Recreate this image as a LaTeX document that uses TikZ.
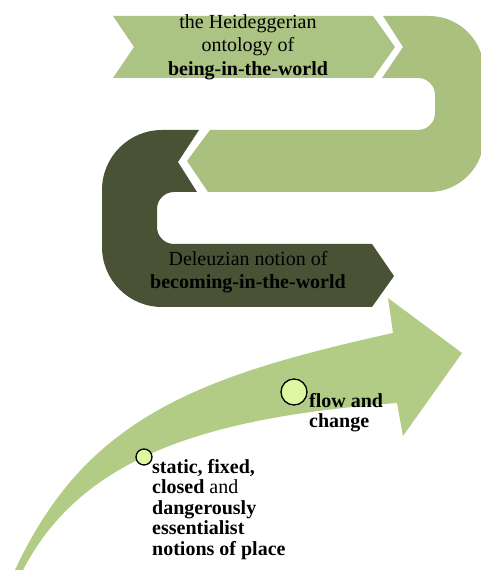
\documentclass[tikz,border=0pt]{standalone}
\usepackage{fontspec}
\setmainfont{Liberation Serif}
\usepackage{tikz}

\definecolor{chevgreen}{HTML}{ABC383}
\definecolor{bandgreen}{HTML}{A9C07F}
\definecolor{darkgreen}{HTML}{4A5235}
\definecolor{arrowgreen}{HTML}{B2CC86}
\definecolor{dotgreen}{HTML}{DDF8A0}

\begin{document}
\begin{tikzpicture}[x=1pt, y=1pt,
  dot/.style={circle, draw=black, line width=1.3pt, fill=dotgreen, inner sep=0pt},
  label text/.style={inner sep=0pt, font=\fontsize{20}{23.5}\selectfont}]
\useasboundingbox (0,0) rectangle (481,570);
\clip (0,0) rectangle (481,570);

% Top chevron
\fill[chevgreen] (113,554) -- (373,554) -- (395,523) -- (373,492) -- (113,492) -- (134,523) -- cycle;

% Light band turning right, pointing left
\fill[bandgreen] (383,554) -- (429,554) arc[start angle=90, end angle=0, radius=55]
  -- (484,433) arc[start angle=0, end angle=-90, radius=55]
  -- (208,378) -- (187,409) -- (210,440) -- (418,440) arc[start angle=-90, end angle=0, radius=17]
  -- (435,475) arc[start angle=0, end angle=90, radius=17]
  -- (382,492) -- (403,523) -- cycle;

% Dark band turning left, pointing right
\fill[darkgreen] (199,440) -- (162,440) arc[start angle=90, end angle=180, radius=60]
  -- (102,323) arc[start angle=180, end angle=270, radius=60]
  -- (372,263) -- (394,294) -- (372,326) -- (174,326) arc[start angle=270, end angle=180, radius=17]
  -- (157,361) arc[start angle=180, end angle=90, radius=17]
  -- (197,378) -- (178,408) -- cycle;

% Curved arrow at the bottom
\fill[arrowgreen] (15,0) .. controls (85,150) and (193,193) .. (393,237)
  -- (388,272) -- (462,217) -- (403,134) -- (397,167)
  .. controls (213,153) and (83,116) .. (23,0) -- cycle;

% Texts
\node[label text, anchor=north, align=center] (heid) at (248,556)
  {the Heideggerian\\ontology of\\\textbf{being-in-the-world}};
\node[label text, anchor=north, align=center, font=\fontsize{20}{23}\selectfont] (deleuze) at (248,319)
  {Deleuzian notion of\\\textbf{becoming-in-the-world}};

% Points on the arrow
\node[dot, minimum size=16pt] (dot1) at (144,113) {};
\node[dot, minimum size=26pt] (dot2) at (294,178) {};

\node[label text, anchor=north west, align=left, font=\fontsize{20}{20.5}\selectfont] (static) at (152,111)
  {\textbf{static, fixed,}\\\textbf{closed} and\\\textbf{dangerously}\\\textbf{essentialist}\\\textbf{notions of place}};
\node[label text, anchor=north west, align=left, font=\fontsize{20}{20}\selectfont] (flow) at (309,177)
  {\textbf{flow and}\\\textbf{change}};
\end{tikzpicture}
\end{document}
